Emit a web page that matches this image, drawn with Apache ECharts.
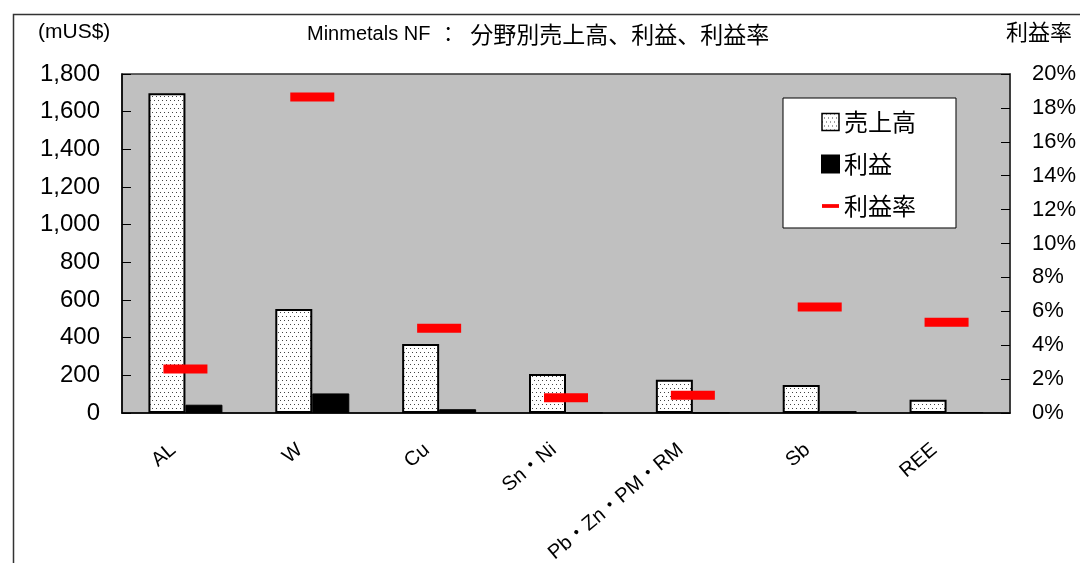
<!DOCTYPE html>
<html>
<head>
<meta charset="utf-8">
<script src="https://cdn.jsdelivr.net/npm/echarts@6/dist/echarts.min.js"></script>
<style>
html,body{margin:0;padding:0;background:#fff;}
#chart{width:1080px;height:563px;}
</style>
</head>
<body>
<div id="chart"></div>
<script>
// ---- data ----
const categories = ['AL', 'W', 'Cu', 'Sn・Ni', 'Pb・Zn・PM・RM', 'Sb', 'REE'];
const sales = [1698, 552, 366, 207, 177, 149, 71];        // 売上高 (mUS$)
const profit = [44, 104, 20, 3, 2, 10, 5];                 // 利益 (mUS$)
const profitRate = [2.6, 18.65, 5.0, 0.9, 1.05, 6.25, 5.35]; // 利益率 (%)
const leftTicks = {min: 0, max: 1800, interval: 200};
const rightTicks = {min: 0, max: 20, interval: 2};

// dotted fill pattern for sales bars
function makePattern() {
  const c = document.createElement('canvas');
  c.width = 4; c.height = 8;
  const g = c.getContext('2d');
  g.fillStyle = '#ffffff';
  g.fillRect(0, 0, 4, 8);
  g.fillStyle = '#444444';
  g.fillRect(0, 0, 1, 1);
  g.fillRect(2, 4, 1, 1);
  return c;
}
const pattern = {image: makePattern(), repeat: 'repeat'};

const latin = "'Liberation Sans', 'Noto Sans CJK JP', sans-serif";
const cjk = "'Noto Sans CJK JP', sans-serif";

const chart = echarts.init(document.getElementById('chart'), null, {renderer: 'canvas'});
chart.setOption({
  animation: false,
  backgroundColor: '#ffffff',
  textStyle: {fontFamily: latin, color: '#000'},
  graphic: [
    {type: 'rect', left: 11, top: 12, shape: {width: 1200, height: 700},
     style: {fill: 'none', stroke: '#333', lineWidth: 1.5}, silent: true, z: -10},
    {type: 'text', left: 38, top: 22,
     style: {text: '(mUS$)', font: "21px 'Liberation Sans', sans-serif", fill: '#000'}},
    {type: 'text', right: 8, top: 21,
     style: {text: '利益率', font: "22px 'Noto Sans CJK JP', sans-serif", fill: '#000'}}
  ],
  title: {
    text: '{a|Minmetals NF}{c|：}{b|分野別売上高、利益、利益率}',
    left: 302, top: 18,
    textStyle: {
      fontWeight: 'normal',
      rich: {
        a: {fontSize: 20, fontWeight: 'normal', fontFamily: latin, color: '#000'},
        c: {fontSize: 20, fontWeight: 'normal', fontFamily: cjk, color: '#000', padding: [0, 0, 0, 8]},
        b: {fontSize: 23, fontWeight: 'normal', fontFamily: cjk, color: '#000', padding: [0, 0, 0, 12]}
      }
    }
  },
  legend: {
    orient: 'vertical',
    left: 783, top: 98,
    backgroundColor: '#ffffff',
    borderColor: '#000',
    borderWidth: 1,
    padding: [12, 40, 10, 38],
    itemGap: 18,
    itemWidth: 17, itemHeight: 17,
    textStyle: {fontSize: 24, fontFamily: cjk, color: '#000'},
    data: [
      {name: '売上高', icon: 'rect', itemStyle: {borderWidth: 1.5, borderColor: '#000'}},
      {name: '利益', icon: 'rect'},
      {name: '利益率', icon: 'path://M0,0 L18,0 L18,4 L0,4 Z'}
    ]
  },
  grid: {
    left: 122, right: 70, top: 74, bottom: 150,
    outerBoundsMode: 'none', containLabel: false,
    show: true, backgroundColor: '#c0c0c0', borderColor: '#333', borderWidth: 1.5
  },
  xAxis: {
    type: 'category',
    data: categories,
    axisLine: {lineStyle: {color: '#000', width: 1.5}},
    axisTick: {inside: true, length: 7, lineStyle: {color: '#000'}},
    axisLabel: {rotate: 40, fontSize: 20, margin: 24, padding: [0, 16, 0, 0],
      color: '#000', fontFamily: latin, interval: 0, hideOverlap: false}
  },
  yAxis: [
    {
      type: 'value',
      min: leftTicks.min, max: leftTicks.max, interval: leftTicks.interval,
      axisLine: {show: true, lineStyle: {color: '#000', width: 1.5}},
      axisTick: {show: true, inside: true, length: 9, lineStyle: {color: '#000'}},
      splitLine: {show: false},
      axisLabel: {fontSize: 24, margin: 22, color: '#000', fontFamily: latin,
        formatter: v => v.toLocaleString('en-US')}
    },
    {
      type: 'value',
      min: rightTicks.min, max: rightTicks.max, interval: rightTicks.interval,
      axisLine: {show: true, lineStyle: {color: '#333', width: 1.5}},
      axisTick: {show: true, inside: true, length: 9, lineStyle: {color: '#000'}},
      splitLine: {show: false},
      axisLabel: {fontSize: 22, margin: 22, color: '#000', fontFamily: latin,
        formatter: '{value}%'}
    }
  ],
  series: [
    {
      name: '売上高', type: 'bar', data: sales,
      barWidth: 37, barGap: '0%',
      itemStyle: {color: pattern, borderColor: '#000', borderWidth: 2}
    },
    {
      name: '利益', type: 'bar', data: profit,
      barWidth: 37, barGap: '0%',
      itemStyle: {color: '#000', borderColor: '#000', borderWidth: 1}
    },
    {
      name: '利益率', type: 'scatter', yAxisIndex: 1, data: profitRate,
      symbol: 'rect', symbolSize: [44, 9], z: 5,
      itemStyle: {color: '#ff0000', opacity: 1}
    }
  ]
});
</script>
</body>
</html>
